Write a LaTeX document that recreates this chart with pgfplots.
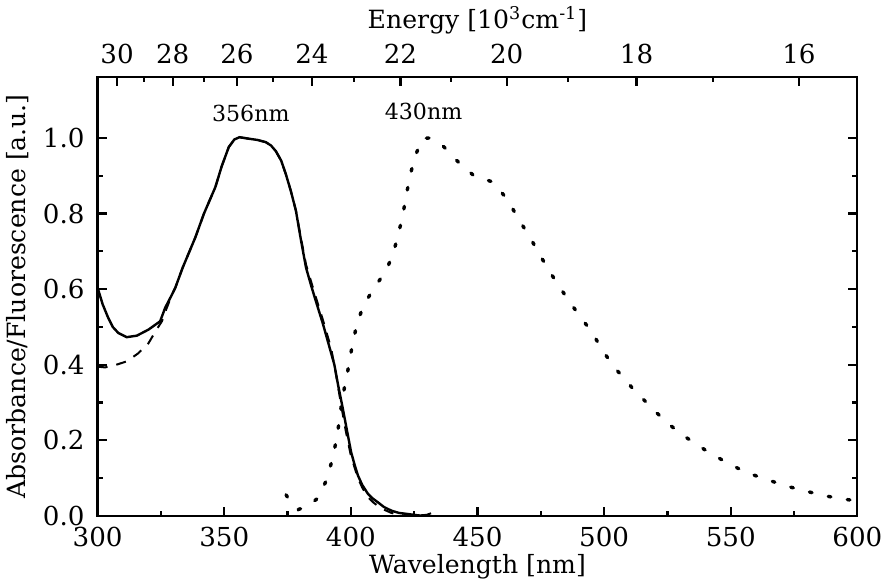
\documentclass[border=0pt]{standalone}
\usepackage{fontspec}
\setmainfont{DejaVu Serif}
\usepackage{pgfplots}
\pgfplotsset{compat=1.18}

\pgfplotsset{
  specaxis/.style={
    width=378pt, height=218.5pt, scale only axis,
    xmin=300, xmax=600, ymin=0, ymax=1.162,
    axis line style={line width=1.1pt},
    every tick/.style={line width=1.1pt, black},
    major tick length=4.5pt, minor tick length=2.5pt,
    tick align=inside,
    /pgf/number format/assume math mode=true,
    tick label style={font=\fontsize{13}{15}\selectfont},
    label style={font=\fontsize{12.5}{15}\selectfont},
  }
}

\begin{document}
\begin{tikzpicture}
% bottom wavelength axis with the spectra
\begin{axis}[specaxis,
  xtick={300,350,400,450,500,550,600}, minor x tick num=1, xtick pos=bottom,
  ytick={0,0.2,0.4,0.6,0.8,1.0}, minor y tick num=1,
  ytick pos=both, yticklabel pos=left,
  yticklabel style={xshift=-3pt,/pgf/number format/.cd,fixed,fixed zerofill,precision=1},
  xticklabel style={yshift=-2pt},
  xlabel={Wavelength [nm]},
  xlabel style={yshift=3pt},
  ylabel={Absorbance/Fluorescence [a.u.]},
]
% absorbance, solid
\addplot[black, line width=1.2pt, mark=none] coordinates {
 (300,0.604)(302,0.560)(304.2,0.524)(306,0.500)(308.2,0.484)(311.5,0.473)
 (315.5,0.477)(320.1,0.493)(324.7,0.515)(326.7,0.551)(329.4,0.586)(330.7,0.604)
 (333.6,0.657)(338.6,0.737)(342,0.800)(346.5,0.870)(349,0.925)(351.8,0.976)
 (354,0.996)(356,1.002)(358,1.000)(359.8,0.998)(363,0.995)(366.4,0.989)
 (368.5,0.980)(370.4,0.965)(372.5,0.940)(374.3,0.905)(376.3,0.860)(378.3,0.808)
 (380.3,0.730)(382.3,0.657)(384.3,0.610)(386.2,0.568)(388.9,0.510)(391,0.460)
 (393.5,0.400)(395,0.345)(396.8,0.285)(398.5,0.225)(400.1,0.169)(401.5,0.135)
 (402.8,0.107)(404.5,0.082)(406.7,0.059)(408.5,0.047)(410.7,0.036)(413,0.024)
 (416,0.014)(419,0.008)(422.6,0.005)(426,0.002)(429,0.000)};
% absorbance, dashed
\addplot[black, line width=1.0pt, dash pattern=on 5pt off 4.5pt, mark=none] coordinates {
 (300,0.395)(302.9,0.393)(306,0.397)(311.5,0.409)(316,0.430)(320.1,0.457)
 (323,0.490)(325.4,0.515)(327,0.545)(329.4,0.586)(330.7,0.604)(333.6,0.657)
 (338.6,0.737)(342,0.800)(346.5,0.870)(349,0.925)(351.8,0.976)(354,0.996)
 (356,1.002)(358,1.000)(359.8,0.998)(363,0.995)(366.4,0.989)(368.5,0.980)
 (370.4,0.965)(372.5,0.940)(374.3,0.905)(376.3,0.860)(378.3,0.808)(380.3,0.735)
 (382.3,0.665)(384.3,0.620)(386.2,0.578)(388.9,0.520)(392.2,0.444)(394,0.380)
 (396,0.300)(398,0.225)(400,0.160)(402.8,0.100)(404.5,0.075)(406.7,0.050)
 (409,0.035)(412,0.020)(416,0.008)(420,0.002)(425,0.000)(430,0.003)(434.5,0.014)};
% fluorescence, dotted
\addplot[black, line width=1.7pt, line cap=round, dash pattern=on 1.3pt off 8.3pt, mark=none] coordinates {
 (374.4,0.056)(376.8,0.030)(379.2,0.017)(383,0.025)(387.1,0.048)(390.6,0.098)
 (392.6,0.148)(394.2,0.198)(395.4,0.249)(396.4,0.300)(397.7,0.348)(399.2,0.398)
 (400.5,0.449)(402.1,0.499)(404.5,0.549)(408.6,0.598)(414,0.649)(416.9,0.699)
 (418.9,0.749)(420.6,0.799)(421.9,0.849)(423.4,0.900)(425.2,0.949)(428.3,0.999)
 (431,1.000)(435.8,0.983)(442.2,0.938)(448.6,0.900)(456.3,0.883)(461.9,0.836)
 (466.3,0.785)(470.9,0.735)(475.1,0.685)(479.6,0.635)(484.4,0.586)(489.7,0.535)
 (495.4,0.484)(499.6,0.435)(505.0,0.386)(511.2,0.338)(517.9,0.292)(524.7,0.247)
 (532.1,0.209)(539.8,0.175)(547.9,0.143)(555.8,0.116)(563.9,0.097)(572.1,0.079)
 (580.0,0.065)(588.2,0.052)(596.3,0.043)(600,0.040)};
\node[font=\fontsize{11}{13}\selectfont] at (axis cs:360.5,1.064) {356nm};
\node[font=\fontsize{11}{13}\selectfont] at (axis cs:428.7,1.069) {430nm};
\end{axis}
% top energy axis (labels as in the original figure)
\begin{axis}[specaxis,
  xtick={307.69,329.67,355.03,384.62,419.58,461.54,512.82,576.92},
  xticklabels={30,28,26,24,22,20,18,16},
  minor xtick={318.31,341.88,369.23,401.34,439.56,485.83,542.96},
  xtick pos=top, xticklabel pos=top,
  xticklabel style={yshift=3pt},
  ytick=\empty,
  xlabel={Energy [10\textsuperscript{3}cm\textsuperscript{-1}]},
  xlabel style={yshift=-2pt},
]
\end{axis}
\end{tikzpicture}
\end{document}
